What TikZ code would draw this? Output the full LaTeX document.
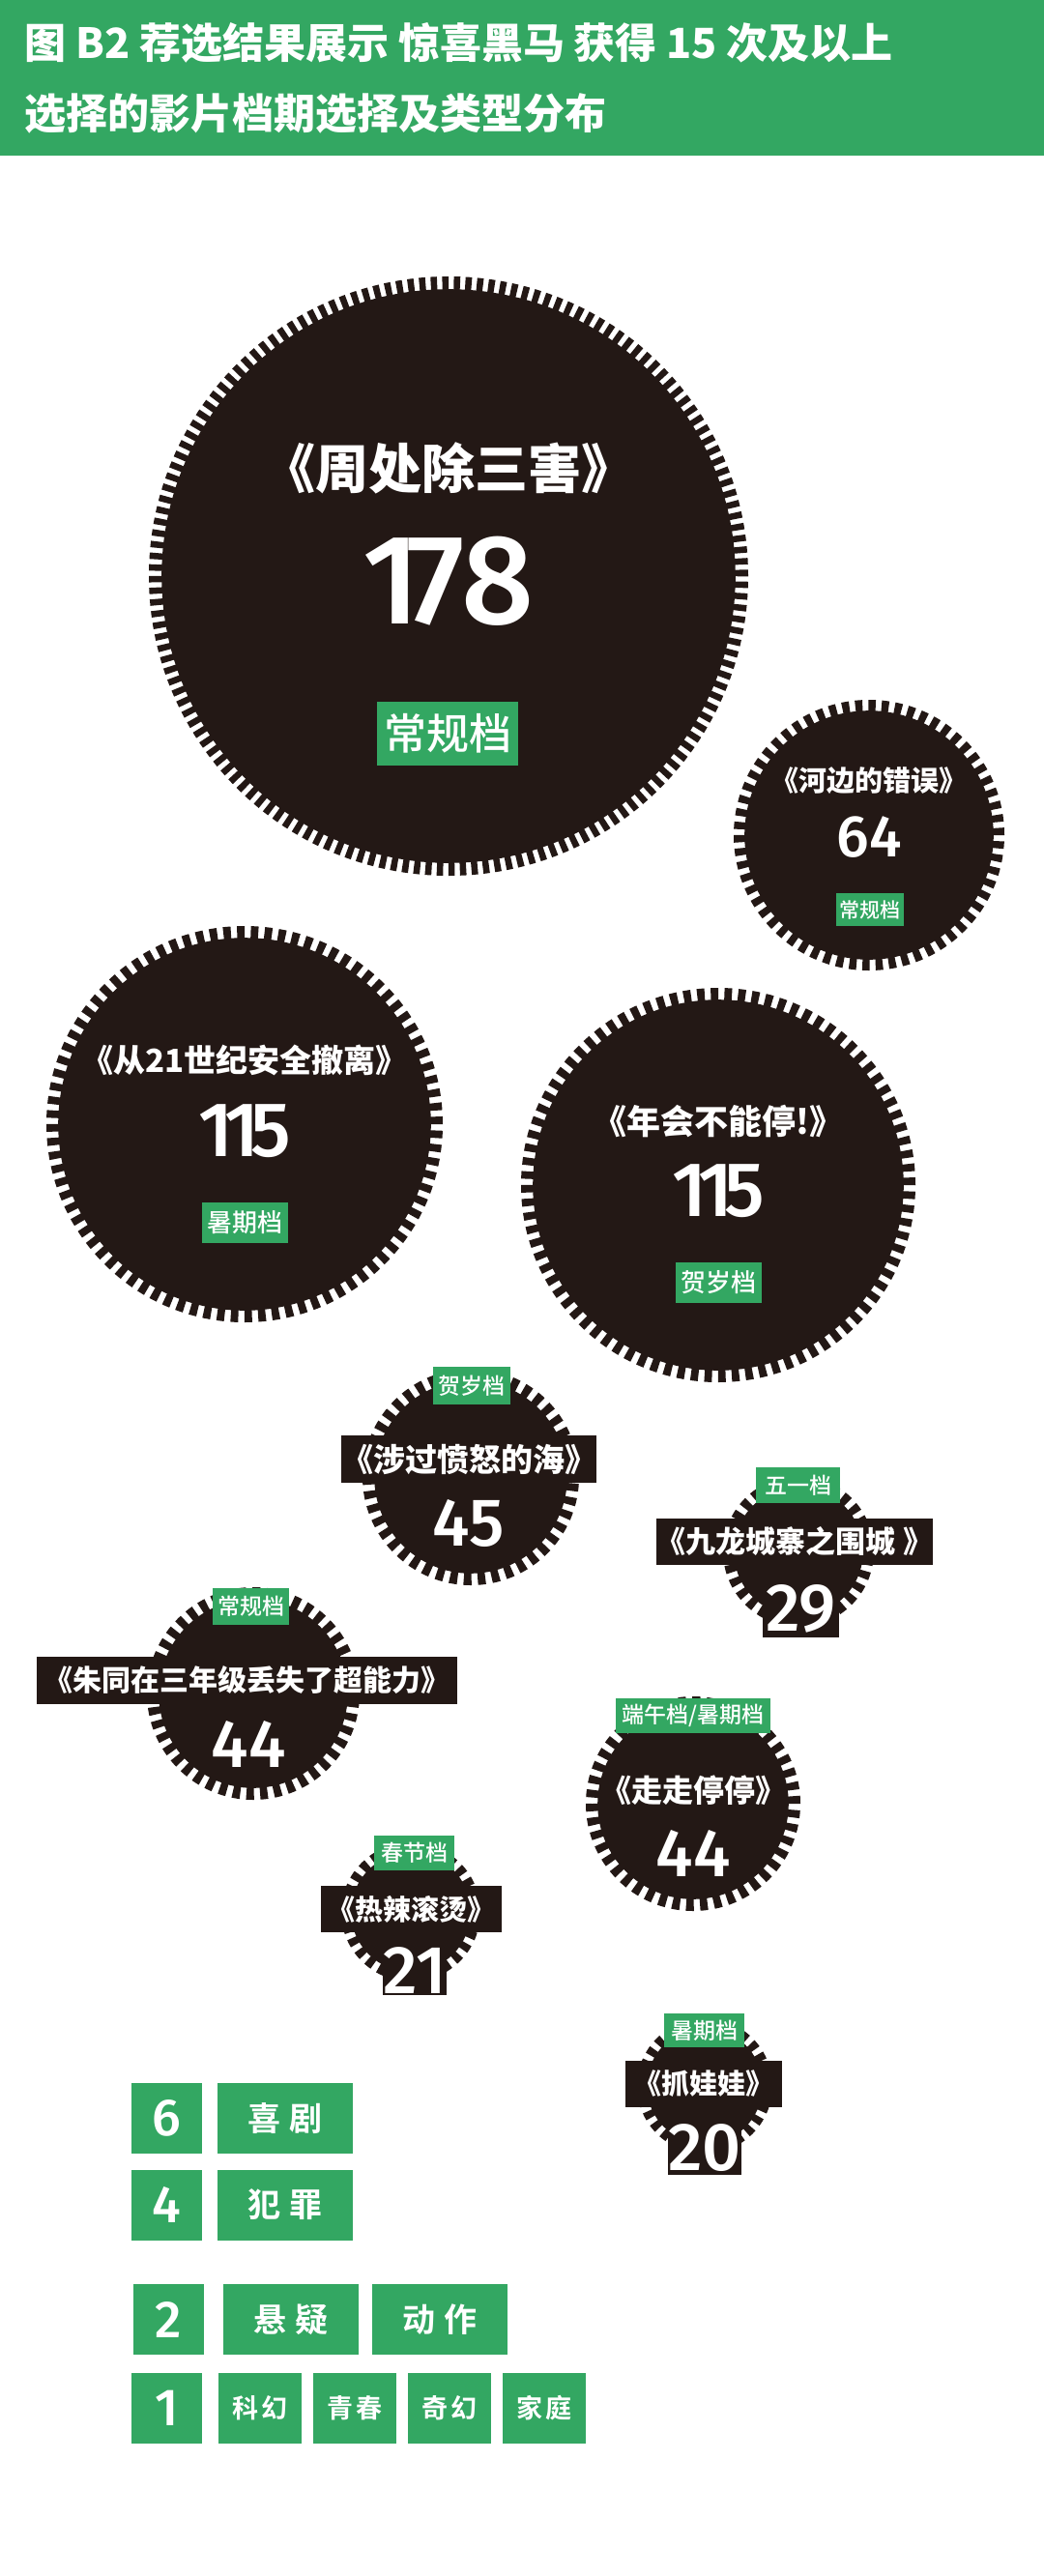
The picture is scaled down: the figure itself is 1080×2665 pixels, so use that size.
\documentclass[tikz,border=0pt]{standalone}
\usepackage{fontspec}
\newfontfamily\hfont{Noto Sans CJK SC Black}
\newfontfamily\bfont{Noto Sans CJK SC Bold}
\newfontfamily\mfont{Noto Sans CJK SC Medium}
\newfontfamily\nfont{Fira Sans Medium}[Numbers=Proportional]
\definecolor{dark}{HTML}{231815}
\definecolor{grn}{RGB}{51,167,98}
\newcommand\fs[1]{\fontsize{#1pt}{#1pt}\selectfont}
\newcommand\one{1\kern-0.11em}
% gear: x y r t n   (px)
\newcommand\gear[5]{%
  \pgfmathsetmacro\gR{#3/2}%
  \pgfmathsetmacro\gT{#4/2}%
  \pgfmathsetmacro\gI{\gR-\gT+0.4}%
  \pgfmathsetmacro\gM{\gR-\gT/2}%
  \pgfmathsetmacro\gP{2*pi*\gM/#5}%
  \pgfmathsetmacro\gOn{0.55*\gP}%
  \pgfmathsetmacro\gOff{\gP-\gOn}%
  \fill[dark] (#1,#2) circle[radius=\gI pt];
  \draw[dark, line width=\gT pt, dash pattern=on \gOn pt off \gOff pt] (#1,#2) circle[radius=\gM pt];
}
\begin{document}
\begin{tikzpicture}[x=0.5pt,y=-0.5pt,
  ttl/.style={text=white,inner sep=0pt},
  num/.style={text=white,inner sep=0pt},
  tag/.style={fill=grn,text=white,inner sep=0pt},
  bbox/.style={fill=dark,text=white,inner sep=0pt},
  leg/.style={fill=grn,text=white,inner sep=0pt},
]
\useasboundingbox (0,0) rectangle (1080,2665);
\fill[white] (0,0) rectangle (1080,2665);
% header
\fill[grn] (0,0) rectangle (1080,161);
\node[anchor=west,text=white,inner sep=0pt,font=\hfont\fs{21.5}] (h1) at (25,44) {图 B2 荐选结果展示 惊喜黑马 获得 15 次及以上};
\node[anchor=west,text=white,inner sep=0pt,font=\hfont\fs{21.5}] (h2) at (25,117) {选择的影片档期选择及类型分布};

% C1
\gear{464}{596}{310}{14}{160}
\node[ttl,font=\hfont\fs{27.5}] (t1) at (464,484) {《周处除三害》};
\node[num,font=\nfont\fs{66}] (n1) at (464,601) {\one 78};
\node[tag,minimum width=73pt,minimum height=33pt,font=\mfont\fs{22}] (g1) at (463,759) {常规档};

% C2
\gear{899}{864}{140}{12}{62}
\node[ttl,font=\hfont\fs{14.5}] (t2) at (899,808) {《河边的错误》};
\node[num,font=\nfont\fs{30.5}] (n2) at (899,866) {64};
\node[tag,minimum width=35pt,minimum height=17pt,font=\mfont\fs{10.5}] (g2) at (900,941) {常规档};

% C3
\gear{253}{1163}{205}{13}{88}
\node[ttl,font=\hfont\fs{16.5}] (t3) at (253,1097) {《从21世纪安全撤离》};
\node[num,font=\nfont\fs{40}] (n3) at (253,1170) {\one\one 5};
\node[tag,minimum width=44.5pt,minimum height=21pt,font=\mfont\fs{13}] (g3) at (253.5,1265) {暑期档};

% C4
\gear{743}{1226}{204}{13}{88}
\node[ttl,font=\hfont\fs{17.5}] (t4) at (743,1160) {《年会不能停!》};
\node[num,font=\nfont\fs{40}] (n4) at (743,1232) {\one\one 5};
\node[tag,minimum width=44.5pt,minimum height=21pt,font=\mfont\fs{13}] (g4) at (743.5,1327) {贺岁档};

% C5
\gear{487}{1528}{112}{13}{46}
\node[tag,minimum width=40pt,minimum height=19.5pt,font=\mfont\fs{11.5}] (g5) at (488,1433.5) {贺岁档};
\node[bbox,minimum width=122pt,minimum height=24.5pt,font=\hfont\fs{16.5}] (t5) at (485,1509.5) {《涉过愤怒的海》};
\node[num,font=\nfont\fs{35}] (n5) at (485,1576) {45};

% C6
\gear{826}{1605}{78}{12}{32}
\node[tag,minimum width=43.5pt,minimum height=18.5pt,font=\mfont\fs{11.5}] (g6) at (825.5,1536.5) {五一档};
\node[bbox,minimum width=138pt,minimum height=24pt,font=\hfont\fs{15.5}] (t6) at (822,1595) {《九龙城寨之围城 》};
\node[bbox,minimum width=39.5pt,minimum height=30pt,font=\nfont\fs{35}] (n6) at (828.5,1664) {29};

% C7
\gear{262}{1752}{110}{13}{46}
\node[tag,minimum width=39.5pt,minimum height=19pt,font=\mfont\fs{11.5}] (g7) at (259.5,1662) {常规档};
\node[bbox,minimum width=217.5pt,minimum height=24.5pt,font=\hfont\fs{15}] (t7) at (255.5,1738.5) {《朱同在三年级丢失了超能力》};
\node[num,font=\nfont\fs{35}] (n7) at (257,1804) {44};

% C8
\gear{717}{1866}{111}{13}{46}
\node[tag,minimum width=80pt,minimum height=18pt,font=\mfont\fs{11.5}] (g8) at (717,1775) {端午档/暑期档};
\node[ttl,font=\hfont\fs{16}] (t8) at (717,1852) {《走走停停》};
\node[num,font=\nfont\fs{35}] (n8) at (717,1917) {44};

% C9
\gear{425}{1978}{72}{11}{30}
\node[tag,minimum width=41.5pt,minimum height=18pt,font=\mfont\fs{11.5}] (g9) at (428.5,1917) {春节档};
\node[bbox,minimum width=93.5pt,minimum height=24pt,font=\hfont\fs{14.5}] (t9) at (425.5,1975) {《热辣滚烫》};
\node[bbox,minimum width=32pt,minimum height=26pt,font=\nfont\fs{35}] (n9) at (429,2038) {21};

% C10
\gear{729}{2158}{70}{11}{30}
\node[tag,minimum width=41.5pt,minimum height=17.5pt,font=\mfont\fs{11.5}] (g10) at (728.5,2100.5) {暑期档};
\node[bbox,minimum width=81pt,minimum height=24pt,font=\hfont\fs{14.5}] (t10) at (728,2156) {《抓娃娃》};
\node[bbox,minimum width=38pt,minimum height=27.5pt,font=\nfont\fs{35}] (n10) at (729,2222.5) {20};

% legend
\node[leg,minimum width=36.5pt,minimum height=36.5pt,font=\nfont\fs{27}] (l6) at (172.5,2191.5) {6};
\node[leg,minimum width=70pt,minimum height=36.5pt,font=\bfont\fs{17}] (l6a) at (295,2191.5) {喜\hspace{0.25em}剧};
\node[leg,minimum width=36.5pt,minimum height=36.5pt,font=\nfont\fs{27}] (l4) at (172.5,2281) {4};
\node[leg,minimum width=70pt,minimum height=36.5pt,font=\bfont\fs{17}] (l4a) at (295,2281) {犯\hspace{0.25em}罪};
\node[leg,minimum width=36.5pt,minimum height=36.5pt,font=\nfont\fs{27}] (l2) at (174.5,2399.5) {2};
\node[leg,minimum width=70pt,minimum height=36.5pt,font=\bfont\fs{17}] (l2a) at (301,2399.5) {悬\hspace{0.25em}疑};
\node[leg,minimum width=70pt,minimum height=36.5pt,font=\bfont\fs{17}] (l2b) at (455,2399.5) {动\hspace{0.25em}作};
\node[leg,minimum width=36.5pt,minimum height=36.5pt,font=\nfont\fs{27}] (l1) at (172.5,2491.5) {1};
\node[leg,minimum width=43pt,minimum height=36.5pt,font=\bfont\fs{13.5}] (l1a) at (269,2491.5) {科\hspace{0.12em}幻};
\node[leg,minimum width=43pt,minimum height=36.5pt,font=\bfont\fs{13.5}] (l1b) at (367,2491.5) {青\hspace{0.12em}春};
\node[leg,minimum width=43pt,minimum height=36.5pt,font=\bfont\fs{13.5}] (l1c) at (465,2491.5) {奇\hspace{0.12em}幻};
\node[leg,minimum width=43pt,minimum height=36.5pt,font=\bfont\fs{13.5}] (l1d) at (563,2491.5) {家\hspace{0.12em}庭};
\end{tikzpicture}
\end{document}
